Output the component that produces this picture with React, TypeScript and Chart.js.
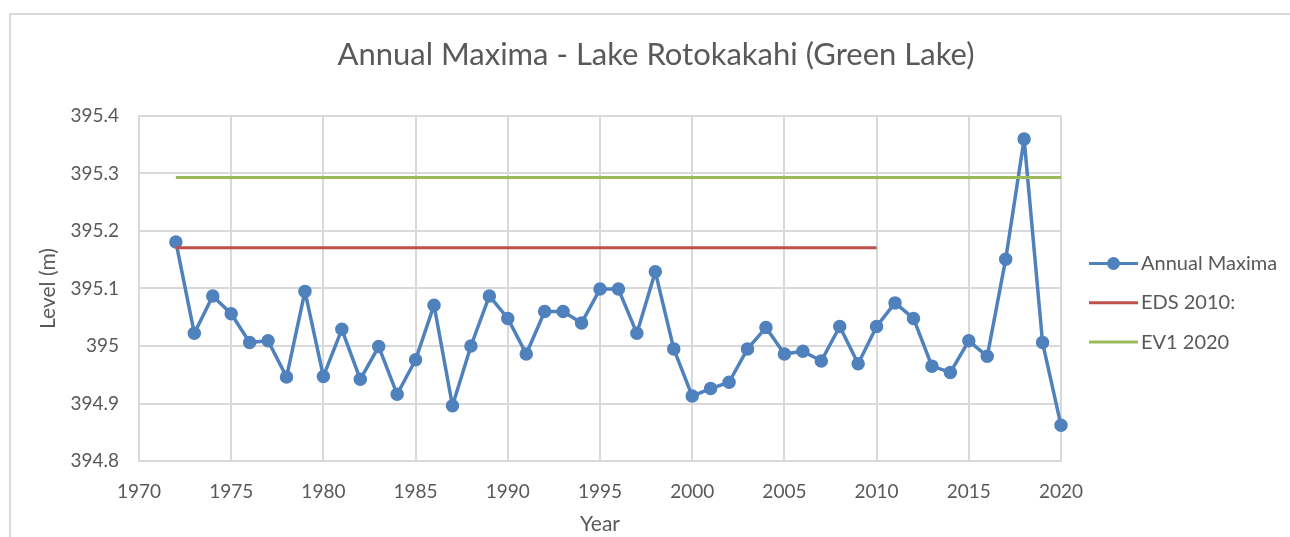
import React, { useEffect, useRef } from "react";
import { Chart, registerables } from "chart.js";

Chart.register(...registerables);

// ---------- data ----------
const years = [
  1972, 1973, 1974, 1975, 1976, 1977, 1978, 1979, 1980, 1981,
  1982, 1983, 1984, 1985, 1986, 1987, 1988, 1989, 1990, 1991,
  1992, 1993, 1994, 1995, 1996, 1997, 1998, 1999, 2000, 2001,
  2002, 2003, 2004, 2005, 2006, 2007, 2008, 2009, 2010, 2011,
  2012, 2013, 2014, 2015, 2016, 2017, 2018, 2019, 2020,
];

const annualMaxima = [
  395.181, 395.022, 395.087, 395.056, 395.006, 395.009, 394.946, 395.095, 394.947, 395.029,
  394.942, 394.999, 394.916, 394.976, 395.071, 394.896, 395.0, 395.087, 395.048, 394.986,
  395.06, 395.06, 395.04, 395.099, 395.099, 395.022, 395.129, 394.995, 394.913, 394.926,
  394.937, 394.995, 395.032, 394.986, 394.991, 394.974, 395.034, 394.969, 395.034, 395.075,
  395.048, 394.965, 394.954, 395.009, 394.982, 395.151, 395.36, 395.006, 394.862,
];

const edsYears = [1972, 2010];
const edsLevels = [395.171, 395.171];

const ev1Years = [1972, 2020];
const ev1Levels = [395.293, 395.293];

const xTickValues = [1970, 1975, 1980, 1985, 1990, 1995, 2000, 2005, 2010, 2015, 2020];
const yTickValues = [394.8, 394.9, 395.0, 395.1, 395.2, 395.3, 395.4];
const yTickLabels = ["394.8", "394.9", "395", "395.1", "395.2", "395.3", "395.4"];

const seriesNames = ["Annual Maxima", "EDS 2010:", "EV1 2020"];
const chartTitle = "Annual Maxima - Lake Rotokakahi (Green Lake)";
const xTitle = "Year";
const yTitle = "Level (m)";

// ---------- styles ----------
const FONT = "Lato, 'Open Sans', 'DejaVu Sans', sans-serif";
const TEXT = "#595959";
const GRID = "#d9d9d9";
const BLUE = "#4f81bd";
const RED = "#c0504d";
const GREEN = "#9bbb59";

const toPoints = (xs: number[], ys: number[]) => xs.map((x, i) => ({ x, y: ys[i] }));

const decorPlugin = {
  id: "decor",
  beforeDraw(chart: any) {
    const ctx = chart.ctx as CanvasRenderingContext2D;
    ctx.save();
    ctx.fillStyle = "#ffffff";
    ctx.fillRect(0, 0, chart.width, chart.height);
    ctx.strokeStyle = GRID;
    ctx.lineWidth = 2;
    ctx.strokeRect(10, 14, chart.width + 40, chart.height + 40);
    ctx.restore();
  },
  afterDraw(chart: any) {
    const ctx = chart.ctx as CanvasRenderingContext2D;
    ctx.save();
    // title
    ctx.fillStyle = TEXT;
    ctx.font = `31px ${FONT}`;
    ctx.textAlign = "center";
    ctx.textBaseline = "alphabetic";
    ctx.fillText(chartTitle, 656, 65);

    // legend
    const lx0 = 1089;
    const lx1 = 1138;
    const baseY = 270;
    const step = 39.3;
    ctx.font = `20px ${FONT}`;
    ctx.textAlign = "left";
    chart.data.datasets.forEach((ds: any, i: number) => {
      const by = baseY + i * step;
      const cy = by - 6.5;
      ctx.strokeStyle = ds.borderColor;
      ctx.lineWidth = 3;
      ctx.beginPath();
      ctx.moveTo(lx0, cy);
      ctx.lineTo(lx1, cy);
      ctx.stroke();
      if (ds.pointRadius > 0) {
        ctx.fillStyle = ds.pointBackgroundColor;
        ctx.beginPath();
        ctx.arc((lx0 + lx1) / 2, cy, 6.5, 0, Math.PI * 2);
        ctx.fill();
      }
      ctx.fillStyle = TEXT;
      ctx.fillText(ds.label, 1141, by);
    });
    ctx.restore();
  },
};

export default function App() {
  const canvasRef = useRef<HTMLCanvasElement | null>(null);

  useEffect(() => {
    document.body.style.margin = "0";
    const canvas = canvasRef.current;
    if (!canvas) return;

    const chart = new Chart(canvas, {
      type: "line",
      data: {
        datasets: [
          {
            label: seriesNames[0],
            data: toPoints(years, annualMaxima),
            borderColor: BLUE,
            backgroundColor: BLUE,
            pointBackgroundColor: BLUE,
            pointBorderColor: BLUE,
            borderWidth: 3.5,
            borderJoinStyle: "round",
            borderCapStyle: "round",
            pointRadius: 6,
            pointBorderWidth: 1.5,
            tension: 0,
            clip: false,
            order: 2,
          },
          {
            label: seriesNames[1],
            data: toPoints(edsYears, edsLevels),
            borderColor: RED,
            backgroundColor: RED,
            pointBackgroundColor: RED,
            borderWidth: 3,
            pointRadius: 0,
            tension: 0,
            clip: false,
            order: 1,
          },
          {
            label: seriesNames[2],
            data: toPoints(ev1Years, ev1Levels),
            borderColor: GREEN,
            backgroundColor: GREEN,
            pointBackgroundColor: GREEN,
            borderWidth: 3,
            pointRadius: 0,
            tension: 0,
            clip: false,
            order: 1,
          },
        ],
      },
      options: {
        responsive: false,
        animation: false,
        devicePixelRatio: 1,
        layout: { padding: { left: 0, right: 229, top: 116, bottom: 0 } },
        plugins: {
          legend: { display: false },
          title: { display: false },
          tooltip: { enabled: false },
        },
        scales: {
          x: {
            type: "linear",
            min: 1970,
            max: 2020,
            afterBuildTicks: (scale: any) => {
              scale.ticks = xTickValues.map((v) => ({ value: v }));
            },
            afterFit: (scale: any) => {
              scale.height = 76;
            },
            grid: { color: GRID, lineWidth: 2, drawTicks: false },
            border: { color: GRID, width: 2 },
            ticks: {
              padding: 19,
              color: TEXT,
              font: { family: FONT, size: 19 },
              maxRotation: 0,
              autoSkip: false,
              callback: (v: any) => String(v),
            },
            title: {
              display: true,
              text: xTitle,
              color: TEXT,
              font: { family: FONT, size: 21 },
              padding: { top: 0, bottom: 0 },
            },
          },
          y: {
            type: "linear",
            min: 394.8,
            max: 395.4,
            afterBuildTicks: (scale: any) => {
              scale.ticks = yTickValues.map((v) => ({ value: v }));
            },
            afterFit: (scale: any) => {
              scale.width = 139;
            },
            grid: { color: GRID, lineWidth: 2, drawTicks: false },
            border: { color: GRID, width: 2 },
            ticks: {
              padding: 20,
              color: TEXT,
              font: { family: FONT, size: 19 },
              autoSkip: false,
              callback: (v: any) => {
                const idx = yTickValues.findIndex((t) => Math.abs(t - v) < 1e-6);
                return idx >= 0 ? yTickLabels[idx] : "";
              },
            },
            title: {
              display: true,
              text: yTitle,
              color: TEXT,
              font: { family: FONT, size: 21 },
              padding: { top: 36, bottom: 0 },
            },
          },
        },
      },
      plugins: [decorPlugin],
    } as any);

    return () => chart.destroy();
  }, []);

  return (
    <div style={{ position: "absolute", left: 0, top: 0 }}>
      <canvas ref={canvasRef} width={1290} height={537} style={{ display: "block" }} />
    </div>
  );
}
